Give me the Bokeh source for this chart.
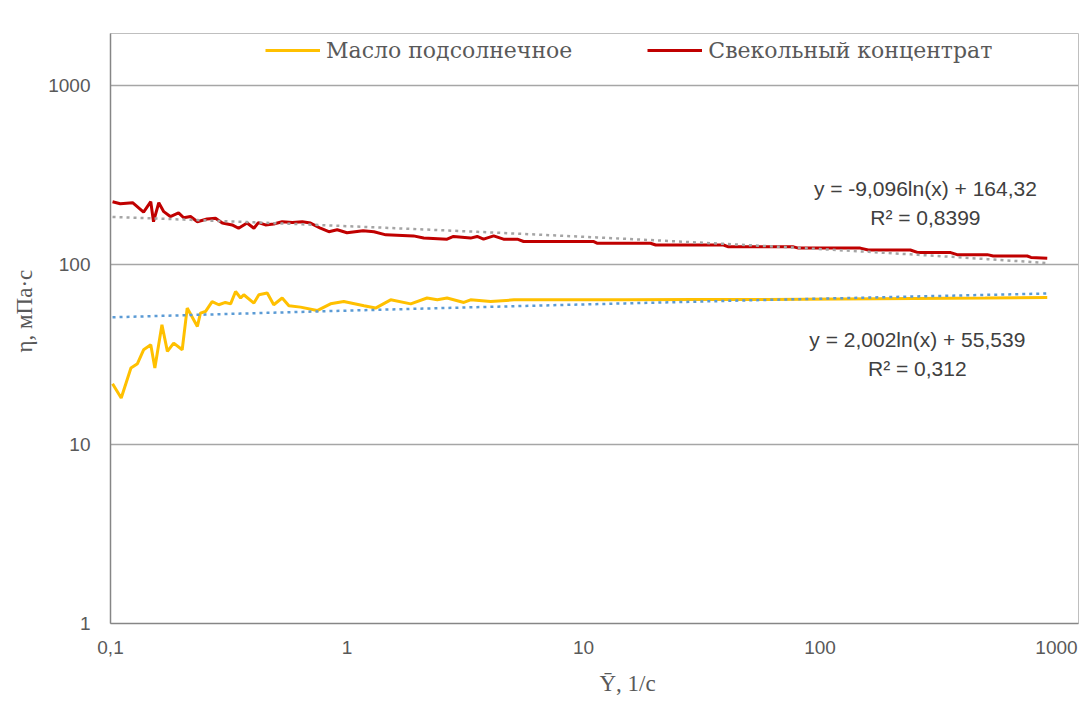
import math
from bokeh.plotting import figure
from bokeh.models import (Legend, LegendItem, Label, FixedTicker, CustomJSTickFormatter,
                          Range1d, Title)
from bokeh.embed import file_html
from bokeh.resources import INLINE

# ---- data ----
red_x = [0.102, 0.110, 0.124, 0.138, 0.148, 0.152, 0.160, 0.168, 0.179, 0.194, 0.204, 0.218,
         0.233, 0.256, 0.278, 0.297, 0.327, 0.348, 0.378, 0.404, 0.422, 0.452, 0.490, 0.532,
         0.587, 0.647, 0.701, 0.772, 0.838, 0.909, 1.00, 1.17, 1.30, 1.46, 1.91, 2.11, 2.65,
         2.82, 3.33, 3.55, 3.78, 4.17, 4.59, 5.25, 5.58, 8.23, 11.0, 11.4, 19.2, 20.2, 39.1,
         41.0, 77.3, 81.1, 148, 160, 241, 260, 357, 380, 510, 540, 752, 780, 914]
red_y = [225, 219, 222, 197, 225, 174, 222, 198, 186, 195, 183, 186,
         174, 180, 182, 171, 167, 160, 171, 160, 172, 167, 169, 174,
         172, 174, 171, 160, 153, 157, 151, 155, 153, 147, 145, 141, 139,
         144, 141, 144, 139, 145, 139, 139, 135, 135, 135, 132, 132, 129, 129,
         126, 126, 124, 124, 121, 121, 117, 117, 114, 114, 112, 112, 110, 109]

yel_x = [0.102, 0.111, 0.122, 0.130, 0.138, 0.148, 0.154, 0.165, 0.174, 0.185, 0.201, 0.211,
         0.233, 0.240, 0.252, 0.269, 0.287, 0.306, 0.322, 0.338, 0.355, 0.366, 0.404, 0.424,
         0.460, 0.490, 0.532, 0.568, 0.636, 0.748, 0.852, 0.969, 1.18, 1.32, 1.53, 1.86, 2.18,
         2.41, 2.65, 3.12, 3.33, 4.05, 5.08, 8.0, 15, 30, 60, 120, 250, 500, 914]
yel_y = [21.7, 18.1, 26.6, 28.1, 33.6, 35.8, 26.6, 46.3, 32.9, 36.6, 33.6, 57.4,
         45.3, 53.8, 54.9, 62.4, 59.9, 61.7, 60.6, 71.0, 65.3, 68.1, 61.2, 68.1,
         69.6, 59.9, 65.3, 59.1, 58.1, 55.6, 60.6, 62.4, 59.1, 57.4, 63.8, 60.6, 65.3,
         63.8, 65.3, 61.7, 63.8, 62.4, 63.8, 63.8, 63.8, 64.0, 64.0, 64.5, 65.0, 65.3, 65.8]

# trendline coefficients printed on the chart: y = a*ln(x) + b
red_a, red_b = -9.096, 164.32
yel_a, yel_b = 2.002, 55.539

series_names = ["Масло подсолнечное", "Свекольный концентрат"]
red_eq = ["y = -9,096ln(x) + 164,32", "R² = 0,8399"]
yel_eq = ["y = 2,002ln(x) + 55,539", "R² = 0,312"]
x_ticks = [0.1, 1, 10, 100, 1000]
y_ticks = [1, 10, 100, 1000]
x_title = "Ȳ, 1/с"
y_title = "η, мПа·с"

red_tx = red_x
red_ty = [red_a * math.log(v) + red_b for v in red_tx]
yel_tx = yel_x
yel_ty = [yel_a * math.log(v) + yel_b for v in yel_tx]

RED = "#C00000"
YEL = "#FFC000"
GRAY_T = "#A5A5A5"
BLUE_T = "#5B9BD5"
TXT = "#595959"

H = 713
p = figure(width=1080, height=H, x_axis_type="log", y_axis_type="log",
           x_range=Range1d(0.1, 1239), y_range=Range1d(1, 1950),
           output_backend="svg", toolbar_location=None,
           frame_width=968, frame_height=590,
           min_border_left=110, min_border_right=2, min_border_top=33, min_border_bottom=90)
p.background_fill_color = "white"
p.border_fill_color = "white"
p.outline_line_color = "#BFBFBF"

r_yel = p.line(yel_x, yel_y, line_color=YEL, line_width=3)
r_red = p.line(red_x, red_y, line_color=RED, line_width=3)
p.line(red_tx, red_ty, line_color=GRAY_T, line_width=2.5, line_dash="3 4")
p.line(yel_tx, yel_ty, line_color=BLUE_T, line_width=2.5, line_dash="3 4")

# axes
p.xaxis.ticker = FixedTicker(ticks=x_ticks, minor_ticks=[])
p.yaxis.ticker = FixedTicker(ticks=y_ticks, minor_ticks=[])
p.xaxis.formatter = CustomJSTickFormatter(code="return tick < 0.5 ? '0,1' : Math.round(tick).toString();")
p.yaxis.formatter = CustomJSTickFormatter(code="return Math.round(tick).toString();")
for ax in (p.xaxis, p.yaxis):
    ax.major_tick_line_color = None
    ax.minor_tick_line_color = None
    ax.major_tick_out = 0
    ax.major_tick_in = 0
    ax.axis_line_color = "#868686"
    ax.axis_line_width = 1.5
    ax.major_label_text_color = TXT
    ax.major_label_text_font = "Liberation Sans"
    ax.major_label_text_font_size = "19px"
p.xaxis.major_label_standoff = 17
p.yaxis.major_label_standoff = 20

p.xgrid.grid_line_color = None
p.ygrid.grid_line_color = "#A6A6A6"
p.ygrid.grid_line_width = 1.5
p.ygrid.minor_grid_line_color = None

# legend
legend = Legend(items=[LegendItem(label=series_names[0], renderers=[r_yel]),
                       LegendItem(label=series_names[1], renderers=[r_red])],
                orientation="horizontal", location=(155, 560),
                padding=0, margin=0, spacing=75, glyph_width=55, glyph_height=26,
                label_height=26, label_standoff=6,
                label_text_font="DejaVu Serif", label_text_font_size="22px",
                label_text_color=TXT, background_fill_alpha=0,
                border_line_color=None)
p.add_layout(legend, "center")

# trendline equations
for (xx, yy, t) in [(279, 265, red_eq[0]), (279, 184, red_eq[1]),
                    (258, 38.5, yel_eq[0]), (258, 26.3, yel_eq[1])]:
    p.add_layout(Label(x=xx, y=yy, text=t, text_align="center", text_baseline="middle",
                       text_font="Liberation Sans", text_font_size="21px",
                       text_color="#404040"))

# axis titles
p.add_layout(Title(text=x_title, align="left", offset=489, standoff=25,
                   text_font="Liberation Serif", text_font_size="23px",
                   text_font_style="normal", text_color=TXT), "below")
p.add_layout(Title(text=y_title, align="left", offset=271, standoff=17,
                   text_font="Liberation Serif", text_font_size="23px",
                   text_font_style="normal", text_color=TXT), "left")

open("out.html", "w").write(file_html(p, INLINE))
